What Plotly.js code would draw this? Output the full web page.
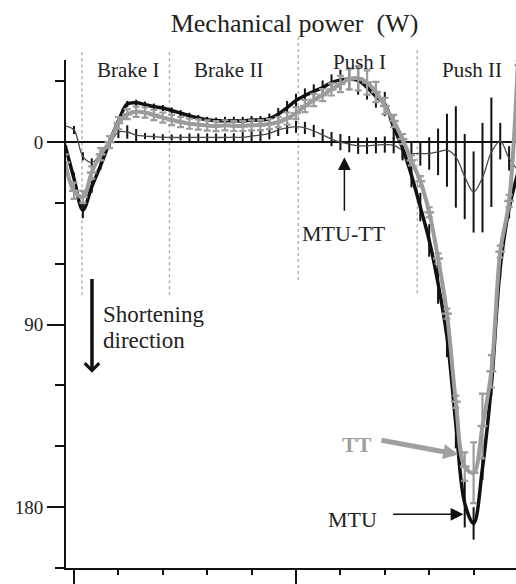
<!DOCTYPE html>
<html>
<head>
<meta charset="utf-8">
<script src="https://cdn.plot.ly/plotly-3.0.1.min.js"></script>
<style>
  html, body { margin: 0; padding: 0; background: #ffffff; }
  #chart { width: 516px; height: 584px; }
</style>
</head>
<body>
<div id="chart"></div>
<script>
// Time axis (% of the cycle), sampled every 2 %
const timePct = [-2, 0, 2, 4, 6, 8, 10, 12, 14, 16, 18, 20, 22, 24, 26, 28, 30, 32, 34, 36,
  38, 40, 42, 44, 46, 48, 50, 52, 54, 56, 58, 60, 62, 64, 66, 68, 70, 72, 74, 76,
  78, 80, 82, 84, 86, 88, 90, 92, 94, 96, 98, 100];

// Muscle-tendon unit power (W), shortening positive (drawn downward)
const mtuPower = [1.5, 18, 33.5, 22, 11.5, 0, -10.4, -18.8, -19.4, -18.5, -17.5, -16.8, -15.6, -14.3, -13, -11.9, -11, -10.6, -10.5, -10.5,
  -10.5, -10.9, -10.9, -11.6, -13.8, -17, -20.5, -23, -25, -26.9, -29.4, -30.7, -31, -30.4, -27, -22.5, -18.8, -7.4, 3, 16.3,
  32, 48.5, 69.7, 96, 139, 178, 188, 160.7, 120, 62, 32.6, 15];
const mtuErr = [2, 3, 4, 3, 2, 2, 2, 1.5, 1.5, 1.5, 1.5, 1.5, 1.5, 1.5, 1.5, 1.5, 1.5, 1.5, 2, 2,
  2, 2, 2, 2.5, 3, 3.3, 3.3, 3.5, 3.5, 3.5, 4, 5, 5.5, 7, 6, 5.5, 6, 6, 5, 6,
  7, 8, 10, 10, 12, 12, 8, 6, 5, 5, 5, 5];

// Tendon (TT) power (W)
const ttPower = [10, 24, 27, 15, 6, 0, -9.4, -13.8, -15, -14.6, -13.4, -12.1, -10.9, -9.9, -9.1, -8.7, -8.2, -7.9, -8.3, -8,
  -8, -8.3, -8.4, -8.9, -9.9, -11.6, -14.3, -17.8, -20.8, -23.2, -26, -28.7, -31, -31.5, -29.4, -24.7, -17.8, -10.4, -1.5, 9,
  19.3, 34.6, 57.4, 84.6, 128, 160, 163, 140, 113, 54, 29, -41];
const ttErr = [4, 4, 3, 3, 3, 3, 3, 2.5, 2.5, 2.5, 2.5, 2.5, 2.5, 2.5, 2.5, 2.5, 2.5, 2.5, 2.5, 2.5,
  2.5, 2.5, 2.5, 2.5, 2.5, 3, 3, 3, 3, 3, 3, 4, 5, 6, 6, 5, 4, 3, 2.5, 2.5,
  2.5, 2.5, 2.5, 2.5, 3, 7, 15, 16, 8, 3, 3, 3];

// Difference MTU - TT (W)
const diffPower = [-8, -6, 7, 10, 6, 1, -5, -5, -3.5, -3, -2.7, -2.4, -2.3, -2.3, -2.3, -2.3, -2.3, -2.3, -2.3, -2.4,
  -2.4, -3, -3.5, -4.3, -6, -7, -7.6, -7, -5.5, -3.5, -1.5, 0, 1, 1.8, 1.8, 1.5, 1.2, 1.5, 4, 5.6,
  5.6, 5.6, 4.8, 4, 7.3, 17, 24.6, 17.5, 5, -0.5, 8, 14];
const diffErr = [2, 2, 2, 2, 2, 2, 3, 3.3, 3, 1.5, 1.5, 1.5, 1.5, 1.5, 2, 2, 2, 2, 2, 2,
  2.5, 3, 3, 3, 3, 3, 3, 3, 3, 3, 3.5, 4, 4, 4, 4, 4, 4, 4, 5, 6,
  6, 8, 11.5, 18, 25, 21, 20, 27, 27, 9, 6, 6];

// Phase boundaries (% of cycle) and labels
const phaseBounds = [1.8, 21.5, 50.5, 77.3];
const phaseNames = ['Brake I', 'Brake II', 'Push I', 'Push II'];
const phaseLabelX = [12.2, 34.9, 64.2, 89.6];
const phaseLabelY = [-35.6, -35.6, -39.6, -35.6];
// top / bottom of each boundary line, in paper units
const phaseTop = [1.016, 1.016, 1.045, 1.02];
const phaseBottom = [0.537, 0.537, 0.567, 0.541];

const SERIF = 'Liberation Serif, Times New Roman, serif';
const GREY = '#9c9c9c';

const traces = [
  {
    x: timePct, y: diffPower, type: 'scatter', mode: 'lines', name: 'MTU-TT',
    line: { color: '#4a4a4a', width: 1.3, shape: 'spline', smoothing: 1 },
    error_y: { type: 'data', array: diffErr, visible: true, color: '#111', thickness: 2, width: 0 },
    hoverinfo: 'skip'
  },
  {
    x: timePct, y: mtuPower, type: 'scatter', mode: 'lines', name: 'MTU',
    line: { color: '#111', width: 3.5, shape: 'spline', smoothing: 1 },
    error_y: { type: 'data', array: mtuErr, visible: true, color: '#111', thickness: 2, width: 0 },
    hoverinfo: 'skip'
  },
  {
    x: timePct, y: ttPower, type: 'scatter', mode: 'lines+markers', name: 'TT',
    line: { color: GREY, width: 4, shape: 'spline', smoothing: 1 },
    marker: { symbol: 'line-ew', size: 7, color: GREY, line: { color: GREY, width: 2.5 } },
    error_y: { type: 'data', array: ttErr, visible: true, color: GREY, thickness: 2.2, width: 3.5 },
    hoverinfo: 'skip'
  }
];

const shapes = phaseBounds.map((b, i) => ({
  type: 'line', xref: 'x', yref: 'paper',
  x0: b, x1: b, y0: phaseBottom[i], y1: phaseTop[i],
  line: { color: '#aaaaaa', width: 1.3, dash: 'dot' }, layer: 'below'
}));

const annotations = phaseNames.map((t, i) => ({
  x: phaseLabelX[i], y: phaseLabelY[i], xref: 'x', yref: 'y',
  text: t, showarrow: false, xanchor: 'center', yanchor: 'middle',
  font: { family: SERIF, size: 21, color: '#222' }
}));

// Direction note
annotations.push(
  { x: 6.0, y: 85, xref: 'x', yref: 'y', text: 'Shortening', showarrow: false,
    xanchor: 'left', yanchor: 'middle', font: { family: SERIF, size: 23, color: '#222' } },
  { x: 6.0, y: 97.8, xref: 'x', yref: 'y', text: 'direction', showarrow: false,
    xanchor: 'left', yanchor: 'middle', font: { family: SERIF, size: 23, color: '#222' } },
  { x: 4.05, y: 113.7, ax: 4.05, ay: 66.8, xref: 'x', yref: 'y', axref: 'x', ayref: 'y',
    text: '', showarrow: true, arrowhead: 4, arrowwidth: 3.5, arrowsize: 0.8, arrowcolor: '#111' }
);

// Series labels with pointers
annotations.push(
  { x: 60.85, y: 45, xref: 'x', yref: 'y', text: 'MTU-TT', showarrow: false,
    xanchor: 'center', yanchor: 'middle', font: { family: SERIF, size: 22, color: '#222' } },
  { x: 60.9, y: 7.4, ax: 60.9, ay: 34.6, xref: 'x', yref: 'y', axref: 'x', ayref: 'y',
    text: '', showarrow: true, arrowhead: 2, arrowwidth: 1.5, arrowsize: 1.7, arrowcolor: '#111' },
  { x: 63.8, y: 148.9, xref: 'x', yref: 'y', text: '<b>TT</b>', showarrow: false,
    xanchor: 'center', yanchor: 'middle', font: { family: SERIF, size: 22, color: '#a0a0a0' } },
  { x: 86.55, y: 154, ax: 68.9, ay: 146.9, xref: 'x', yref: 'y', axref: 'x', ayref: 'y',
    text: '', showarrow: true, arrowhead: 2, arrowwidth: 5, arrowsize: 0.6, arrowcolor: '#a0a0a0' },
  { x: 62.8, y: 186, xref: 'x', yref: 'y', text: 'MTU', showarrow: false,
    xanchor: 'center', yanchor: 'middle', font: { family: SERIF, size: 22, color: '#222' } },
  { x: 87.7, y: 183.5, ax: 71.55, ay: 183.5, xref: 'x', yref: 'y', axref: 'x', ayref: 'y',
    text: '', showarrow: true, arrowhead: 2, arrowwidth: 1.5, arrowsize: 1.7, arrowcolor: '#111' }
);

const layout = {
  width: 516, height: 584,
  margin: { l: 66, r: 0, t: 60, b: 16, pad: 0 },
  paper_bgcolor: '#ffffff', plot_bgcolor: '#ffffff',
  showlegend: false,
  title: {
    text: 'Mechanical power\u00a0 (W)',
    font: { family: SERIF, size: 26, color: '#222' },
    x: 294.5 / 516, xanchor: 'center', xref: 'container',
    y: 0.961, yanchor: 'middle', yref: 'container'
  },
  xaxis: {
    range: [-1.8, 99.55], showgrid: false, zeroline: false,
    showline: true, linecolor: '#111', linewidth: 2,
    ticks: 'outside', tickmode: 'linear', tick0: 0, dtick: 50,
    ticklen: 15, tickwidth: 2, tickcolor: '#111', showticklabels: false,
    minor: { ticks: 'outside', tickmode: 'linear', tick0: 0, dtick: 10, ticklen: 5,
      tickwidth: 2, tickcolor: '#111', showgrid: false },
    fixedrange: true
  },
  yaxis: {
    range: [210, -40.5], showgrid: false,
    zeroline: true, zerolinecolor: '#111', zerolinewidth: 1.6,
    showline: true, linecolor: '#111', linewidth: 2,
    ticks: 'outside', tickmode: 'linear', tick0: 0, dtick: 90,
    ticklen: 17, tickwidth: 2, tickcolor: '#111',
    tickfont: { family: SERIF, size: 19, color: '#222' },
    minor: { ticks: 'outside', tickmode: 'linear', tick0: 0, dtick: 30, ticklen: 9,
      tickwidth: 2, tickcolor: '#111', showgrid: false },
    fixedrange: true
  },
  shapes: shapes,
  annotations: annotations
};

Plotly.newPlot('chart', traces, layout, { displayModeBar: false, staticPlot: true });
</script>
</body>
</html>
